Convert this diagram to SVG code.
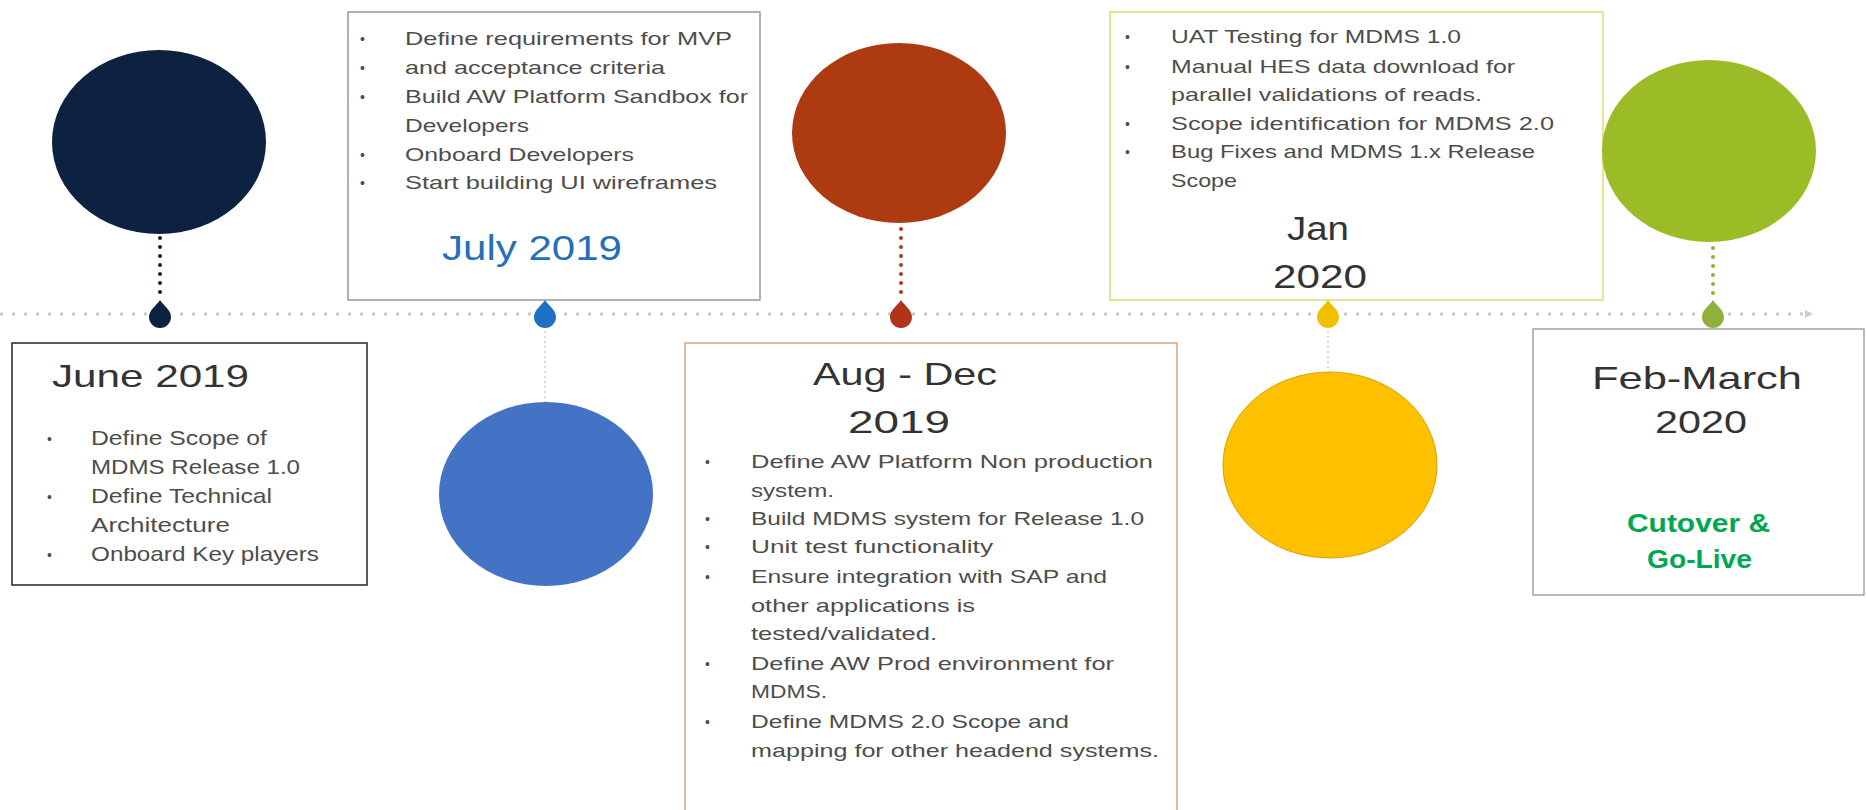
<svg xmlns="http://www.w3.org/2000/svg" xmlns:xlink="http://www.w3.org/1999/xlink" width="1866" height="810" viewBox="0 0 1866 810">
<style>
.box{fill:#ffffff;}
.body{font-family:"Liberation Sans",Arial,sans-serif;font-size:19px;fill:#4d4d4d;}
.bodyL{font-family:"Liberation Sans",Arial,sans-serif;font-size:21px;fill:#4d4d4d;}
.bul{font-family:"Liberation Sans",Arial,sans-serif;font-size:14px;fill:#4d4d4d;}
.title{font-family:"Liberation Sans",Arial,sans-serif;fill:#333333;}
.conn{fill:none;stroke-linecap:round;}
</style>
<defs>
<path id="pin" d="M0,-16 C3,-11 11,-6 11,1 A11,11 0 1 1 -11,1 C-11,-6 -3,-11 0,-16 Z"/>
<marker id="arr" markerWidth="8" markerHeight="8" refX="1" refY="4" orient="auto" markerUnits="userSpaceOnUse">
<path d="M0,0 L8,4 L0,8 Z" fill="#cfcfcf"/>
</marker>
</defs>
<rect width="1866" height="810" fill="#ffffff"/>

<g id="connectors">
<line x1="0" y1="314" x2="1806" y2="314" stroke="#c8c8c8" stroke-width="3" stroke-dasharray="3 9" marker-end="url(#arr)"/>
<line class="conn" x1="160" y1="238" x2="160" y2="297" stroke="#0d2240" stroke-width="4" stroke-dasharray="0 9"/>
<line class="conn" x1="901" y1="229" x2="901" y2="297" stroke="#b03a18" stroke-width="4" stroke-dasharray="0 9"/>
<line class="conn" x1="1713" y1="248" x2="1713" y2="299" stroke="#8fb03a" stroke-width="4" stroke-dasharray="0 9"/>
<line x1="545" y1="331" x2="545" y2="403" stroke="#c4c4c4" stroke-width="1.2" stroke-dasharray="2 3"/>
<line x1="1328" y1="331" x2="1328" y2="372" stroke="#c4c4c4" stroke-width="1.2" stroke-dasharray="2 3"/>
</g>

<g id="june">
<ellipse cx="159" cy="142" rx="107" ry="92" fill="#0d2240"/>
<use xlink:href="#pin" x="160" y="316" fill="#0d2240"/>
<rect class="box" x="12" y="343" width="355" height="242" stroke="#262626" stroke-width="1.5"/>
<text class="title" x="52" y="387" font-size="32" textLength="197" lengthAdjust="spacingAndGlyphs">June 2019</text>
<text class="bul" x="47" y="444">•</text>
<text class="bul" x="47" y="502">•</text>
<text class="bul" x="47" y="560">•</text>
<text class="bodyL" x="91" y="445" textLength="176" lengthAdjust="spacingAndGlyphs">Define Scope of</text>
<text class="bodyL" x="91" y="474" textLength="209" lengthAdjust="spacingAndGlyphs">MDMS Release 1.0</text>
<text class="bodyL" x="91" y="503" textLength="181" lengthAdjust="spacingAndGlyphs">Define Technical</text>
<text class="bodyL" x="91" y="532" textLength="139" lengthAdjust="spacingAndGlyphs">Architecture</text>
<text class="bodyL" x="91" y="561" textLength="228" lengthAdjust="spacingAndGlyphs">Onboard Key players</text>
</g>

<g id="july">
<rect class="box" x="348" y="12" width="412" height="288" stroke="#7f7f7f" stroke-width="1.2"/>
<ellipse cx="546" cy="494" rx="107" ry="92" fill="#4472c4"/>
<use xlink:href="#pin" x="545" y="316" fill="#1f6fc5"/>
<text class="bul" x="360" y="44">•</text>
<text class="bul" x="360" y="73">•</text>
<text class="bul" x="360" y="102">•</text>
<text class="bul" x="360" y="160">•</text>
<text class="bul" x="360" y="188">•</text>
<text class="body" x="405" y="45" textLength="327" lengthAdjust="spacingAndGlyphs">Define requirements for MVP</text>
<text class="body" x="405" y="74" textLength="260" lengthAdjust="spacingAndGlyphs">and acceptance criteria</text>
<text class="body" x="405" y="103" textLength="343" lengthAdjust="spacingAndGlyphs">Build AW Platform Sandbox for</text>
<text class="body" x="405" y="132" textLength="124" lengthAdjust="spacingAndGlyphs">Developers</text>
<text class="body" x="405" y="161" textLength="229" lengthAdjust="spacingAndGlyphs">Onboard Developers</text>
<text class="body" x="405" y="189" textLength="312" lengthAdjust="spacingAndGlyphs">Start building UI wireframes</text>
<text x="442" y="260" font-family="Liberation Sans, Arial, sans-serif" font-size="35" fill="#2470b8" textLength="180" lengthAdjust="spacingAndGlyphs">July 2019</text>
</g>

<g id="augdec">
<ellipse cx="899" cy="133" rx="107" ry="90" fill="#ae3a12"/>
<use xlink:href="#pin" x="901" y="316" fill="#b0341a"/>
<rect class="box" x="685" y="343" width="492" height="480" stroke="#d2a782" stroke-width="1.5"/>
<text class="title" x="813" y="385" font-size="32" textLength="184" lengthAdjust="spacingAndGlyphs">Aug - Dec</text>
<text class="title" x="848" y="433" font-size="32" textLength="102" lengthAdjust="spacingAndGlyphs">2019</text>
<text class="bul" x="705" y="467">•</text>
<text class="bul" x="705" y="524">•</text>
<text class="bul" x="705" y="552">•</text>
<text class="bul" x="705" y="582">•</text>
<text class="bul" x="705" y="669">•</text>
<text class="bul" x="705" y="727">•</text>
<text class="body" x="751" y="468" textLength="402" lengthAdjust="spacingAndGlyphs">Define AW Platform Non production</text>
<text class="body" x="751" y="497" textLength="83" lengthAdjust="spacingAndGlyphs">system.</text>
<text class="body" x="751" y="525" textLength="393" lengthAdjust="spacingAndGlyphs">Build MDMS system for Release 1.0</text>
<text class="body" x="751" y="553" textLength="242" lengthAdjust="spacingAndGlyphs">Unit test functionality</text>
<text class="body" x="751" y="583" textLength="356" lengthAdjust="spacingAndGlyphs">Ensure integration with SAP and</text>
<text class="body" x="751" y="612" textLength="224" lengthAdjust="spacingAndGlyphs">other applications is</text>
<text class="body" x="751" y="640" textLength="186" lengthAdjust="spacingAndGlyphs">tested/validated.</text>
<text class="body" x="751" y="670" textLength="363" lengthAdjust="spacingAndGlyphs">Define AW Prod environment for</text>
<text class="body" x="751" y="698" textLength="76" lengthAdjust="spacingAndGlyphs">MDMS.</text>
<text class="body" x="751" y="728" textLength="318" lengthAdjust="spacingAndGlyphs">Define MDMS 2.0 Scope and</text>
<text class="body" x="751" y="757" textLength="408" lengthAdjust="spacingAndGlyphs">mapping for other headend systems.</text>
</g>

<g id="jan">
<rect class="box" x="1110" y="12" width="493" height="288" stroke="#d6e06c" stroke-width="1.5"/>
<ellipse cx="1330" cy="465" rx="107" ry="93" fill="#ffc000" stroke="#d9a400" stroke-width="1"/>
<use xlink:href="#pin" x="1328" y="316" fill="#f0c000"/>
<text class="bul" x="1125" y="42">•</text>
<text class="bul" x="1125" y="72">•</text>
<text class="bul" x="1125" y="129">•</text>
<text class="bul" x="1125" y="157">•</text>
<text class="body" x="1171" y="43" textLength="290" lengthAdjust="spacingAndGlyphs">UAT Testing for MDMS 1.0</text>
<text class="body" x="1171" y="73" textLength="344" lengthAdjust="spacingAndGlyphs">Manual HES data download for</text>
<text class="body" x="1171" y="101" textLength="311" lengthAdjust="spacingAndGlyphs">parallel validations of reads.</text>
<text class="body" x="1171" y="130" textLength="383" lengthAdjust="spacingAndGlyphs">Scope identification for MDMS 2.0</text>
<text class="body" x="1171" y="158" textLength="364" lengthAdjust="spacingAndGlyphs">Bug Fixes and MDMS 1.x Release</text>
<text class="body" x="1171" y="187" textLength="66" lengthAdjust="spacingAndGlyphs">Scope</text>
<text class="title" x="1287" y="240" font-size="34" textLength="62" lengthAdjust="spacingAndGlyphs">Jan</text>
<text class="title" x="1273" y="288" font-size="34" textLength="94" lengthAdjust="spacingAndGlyphs">2020</text>
</g>

<g id="febmarch">
<ellipse cx="1709" cy="151" rx="107" ry="91" fill="#9bbb27"/>
<use xlink:href="#pin" x="1713" y="316" fill="#8fb03a"/>
<rect class="box" x="1533" y="329" width="331" height="266" stroke="#8c8c8c" stroke-width="1.2"/>
<text class="title" x="1592" y="389" font-size="32" textLength="210" lengthAdjust="spacingAndGlyphs">Feb-March</text>
<text class="title" x="1655" y="433" font-size="32" textLength="92" lengthAdjust="spacingAndGlyphs">2020</text>
<text x="1627" y="532" font-family="Liberation Sans, Arial, sans-serif" font-size="25" font-weight="bold" fill="#00a651" textLength="143" lengthAdjust="spacingAndGlyphs">Cutover &amp;</text>
<text x="1647" y="568" font-family="Liberation Sans, Arial, sans-serif" font-size="25" font-weight="bold" fill="#00a651" textLength="105" lengthAdjust="spacingAndGlyphs">Go-Live</text>
</g>
</svg>
